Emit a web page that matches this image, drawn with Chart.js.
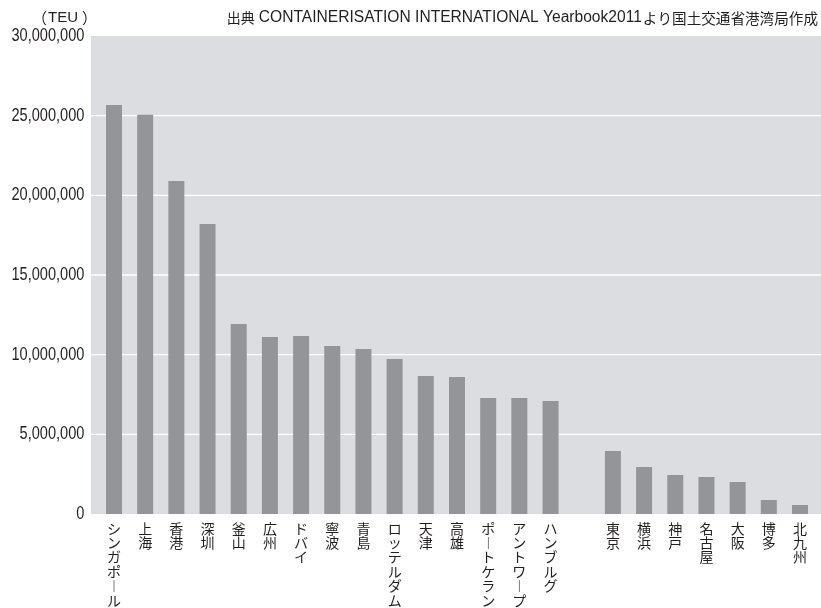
<!DOCTYPE html>
<html lang="ja">
<head>
<meta charset="utf-8">
<title>港湾別コンテナ取扱量</title>
<script src="https://cdn.jsdelivr.net/npm/chart.js@4/dist/chart.umd.min.js"></script>
<style>
  html, body { margin: 0; padding: 0; background: #ffffff; }
  #wrap { width: 821px; height: 608px; }
</style>
</head>
<body>
<div id="wrap"><canvas id="c" width="821" height="608"></canvas></div>
<script>
// 港湾名（空欄は世界の港と日本の港の区切り）
const ports = ['シンガポール', '上海', '香港', '深圳', '釜山', '広州', 'ドバイ', '寧波', '青島',
  'ロッテルダム', '天津', '高雄', 'ポートケラン', 'アントワープ', 'ハンブルグ', '',
  '東京', '横浜', '神戸', '名古屋', '大阪', '博多', '北九州'];

// コンテナ取扱量（TEU）
const teu = [25670000, 25050000, 20900000, 18200000, 11930000, 11110000, 11170000, 10550000, 10360000,
  9730000, 8660000, 8600000, 7280000, 7280000, 7090000, null,
  3950000, 2950000, 2450000, 2320000, 2010000, 880000, 560000];

// 縦軸の目盛
const yTicks = [0, 5000000, 10000000, 15000000, 20000000, 25000000, 30000000];

const unitText = 'TEU';
const sourceLead = '出典';
const sourceTitle = 'CONTAINERISATION INTERNATIONAL Yearbook2011';
const sourceTail = 'より国土交通省港湾局作成';

const PLOT_BG = '#dcdde0';
const BAR = '#939598';
const INK = '#231f20';
const SANS = '"Liberation Sans", Arial, sans-serif';
const CJK = '"Noto Sans CJK JP", sans-serif';
const Y_CONDENSE = 0.81;

// 縦書き用：長音符は縦向きの字形にする
const toVertical = (name) => [...name].map(ch => ch === 'ー' ? '︱' : ch);

// 灰色の背景と白い目盛線（背景は軸の少し外側まで広げる）
const backdrop = {
  id: 'backdrop',
  beforeDatasetsDraw(chart) {
    const { ctx, chartArea, scales } = chart;
    const left = chartArea.left - 7.4;
    const right = chart.width;
    ctx.save();
    ctx.fillStyle = PLOT_BG;
    ctx.fillRect(left, chartArea.top, right - left, chartArea.bottom - chartArea.top);
    ctx.strokeStyle = '#ffffff';
    ctx.lineWidth = 1.3;
    yTicks.forEach(v => {
      if (v <= 0 || v >= 30000000) return;
      const y = scales.y.getPixelForValue(v);
      ctx.beginPath();
      ctx.moveTo(left, y);
      ctx.lineTo(right, y);
      ctx.stroke();
    });
    ctx.restore();
  }
};

// 縦軸の数字は長体（横方向に詰めた字形）で描く
const condensedYLabels = {
  id: 'condensedYLabels',
  beforeDraw(chart) {
    const s = chart.scales.y;
    if (!s || s.__condensed) return;
    const draw = s.drawLabels.bind(s);
    s._computeLabelArea = () => undefined;
    s.drawLabels = function (area) {
      const ctx = this.ctx;
      const ax = this.right - this.options.ticks.padding;
      ctx.save();
      ctx.translate(ax, 0);
      ctx.scale(Y_CONDENSE, 1);
      ctx.translate(-ax, 0);
      draw(area);
      ctx.restore();
    };
    s.__condensed = true;
  }
};

// 単位と出典
const header = {
  id: 'header',
  afterDraw(chart) {
    const { ctx } = chart;
    const y = 18;
    ctx.save();
    ctx.fillStyle = INK;
    ctx.textBaseline = 'middle';
    ctx.textAlign = 'left';

    // （TEU）
    ctx.font = '15px ' + CJK;
    ctx.fillText('（', 32, y);
    ctx.font = '15px ' + SANS;
    ctx.fillText(unitText, 48, y);
    const unitEnd = 48 + ctx.measureText(unitText).width;
    ctx.font = '15px ' + CJK;
    ctx.fillText('）', unitEnd + 4, y);

    // 出典：右端から左へ並べる
    ctx.textAlign = 'right';
    let rx = 818;
    ctx.font = '14.6px ' + CJK;
    ctx.fillText(sourceTail, rx, y);
    rx -= ctx.measureText(sourceTail).width + 1;
    ctx.font = '15.6px ' + SANS;
    ctx.fillText(sourceTitle, rx, y);
    rx -= ctx.measureText(sourceTitle).width + 4;
    ctx.font = '14px ' + CJK;
    ctx.fillText(sourceLead, rx, y);
    ctx.restore();
  }
};

new Chart(document.getElementById('c'), {
  type: 'bar',
  data: {
    labels: ports,
    datasets: [{
      data: teu,
      backgroundColor: BAR,
      borderWidth: 0,
      categoryPercentage: 1,
      barPercentage: 0.513
    }]
  },
  options: {
    responsive: false,
    animation: false,
    events: [],
    layout: { padding: { top: 36, right: 5.4, left: 0, bottom: 0 } },
    plugins: {
      legend: { display: false },
      title: { display: false },
      tooltip: { enabled: false }
    },
    scales: {
      x: {
        offset: true,
        grid: { display: false, drawTicks: false },
        border: { display: false },
        afterFit: (scale) => { scale.height = 94; },
        ticks: {
          autoSkip: false,
          maxRotation: 0,
          minRotation: 0,
          padding: 7,
          color: INK,
          font: { family: CJK, size: 14, lineHeight: 1.03 },
          callback: (value, index) => toVertical(ports[index])
        }
      },
      y: {
        min: 0,
        max: 30000000,
        grid: { display: false, drawTicks: false },
        border: { display: false },
        afterFit: (scale) => { scale.width = 98.4; },
        afterBuildTicks: (scale) => { scale.ticks = yTicks.map(v => ({ value: v })); },
        ticks: {
          padding: 14,
          color: INK,
          font: { family: SANS, size: 18 },
          callback: (v) => Number(v).toLocaleString('en-US')
        }
      }
    }
  },
  plugins: [backdrop, condensedYLabels, header]
});
</script>
</body>
</html>
